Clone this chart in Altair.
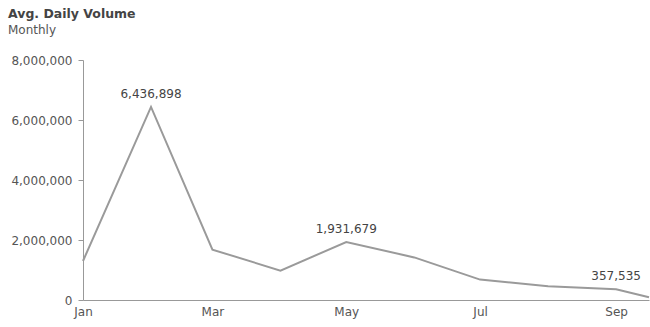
import altair as alt
import pandas as pd

dates = ["2023-01-01", "2023-02-01", "2023-03-01", "2023-04-01", "2023-05-01",
         "2023-06-01", "2023-07-01", "2023-08-01", "2023-09-01", "2023-09-16"]
volumes = [1300000, 6436898, 1680000, 980000, 1931679,
           1420000, 680000, 460000, 357535, 90000]
labels = ["", "6,436,898", "", "", "1,931,679", "", "", "", "357,535", ""]

df = pd.DataFrame({"date": dates, "volume": volumes, "label": labels})

FONT = "DejaVu Sans"
GRAY = "#999999"
TXT = "#555555"

x = alt.X("date:T", title=None,
          scale=alt.Scale(domain=[dates[0], dates[-1]], nice=False),
          axis=alt.Axis(values=["2023-01-01", "2023-03-01", "2023-05-01", "2023-07-01", "2023-09-01"],
                        format="%b", grid=False, ticks=False, labelPadding=6,
                        domainColor=GRAY, labelColor=TXT, labelFont=FONT, labelFontSize=12,
                        labelFlush=False))
y = alt.Y("volume:Q", title=None,
          scale=alt.Scale(domain=[0, 8000000]),
          axis=alt.Axis(values=[0, 2000000, 4000000, 6000000, 8000000], format=",.0f",
                        grid=False, tickSize=5, tickColor=GRAY, domainColor=GRAY,
                        labelColor=TXT, labelFont=FONT, labelFontSize=12, labelPadding=6))

line = alt.Chart(df).mark_line(color="#9a9a9a", strokeWidth=2).encode(x=x, y=y)
text = alt.Chart(df).mark_text(dy=-13, font=FONT, fontSize=12, color="#444444").encode(
    x=x, y=y, text="label:N")

chart = (line + text).properties(
    width=566, height=240,
    padding={"left": 83, "top": 60, "right": 1, "bottom": 27},
    autosize=alt.AutoSizeParams(type="none"),
    title=alt.TitleParams("Avg. Daily Volume", subtitle="Monthly", anchor="start", dx=-75,
                          font=FONT, fontSize=12.5, fontWeight="bold", color="#444444",
                          subtitleFont=FONT, subtitleFontSize=12, subtitleColor=TXT,
                          subtitlePadding=5, offset=18, frame="group"),
).configure_view(stroke=None)

chart.save("out.html", embed_options={"renderer": "svg", "actions": False})
